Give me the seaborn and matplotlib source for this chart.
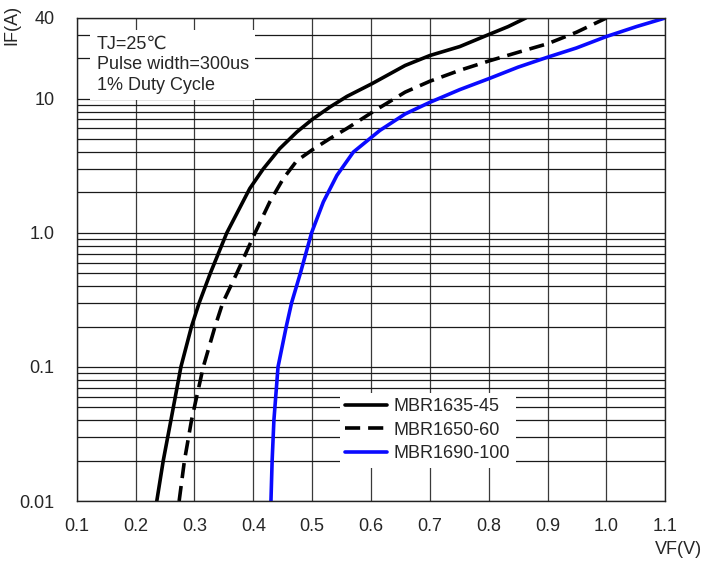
import matplotlib
matplotlib.use("Agg")
import matplotlib.pyplot as plt
import numpy as np
import pandas as pd
import seaborn as sns
from matplotlib.ticker import LogLocator, NullFormatter

# forward voltage (V) vs forward current (A)
vf_45 = [0.236, 0.247, 0.260, 0.277, 0.295, 0.308, 0.327, 0.355, 0.394, 0.417,
         0.445, 0.474, 0.500, 0.530, 0.559, 0.601, 0.658, 0.700, 0.751, 0.800,
         0.833, 0.863]
if_45 = [0.01, 0.02, 0.04, 0.1, 0.2, 0.3, 0.5, 1.0, 2.14, 3.0,
         4.25, 5.65, 7.0, 8.66, 10.4, 12.9, 17.7, 21.0, 24.5, 30.1,
         34.5, 40]

vf_60 = [0.274, 0.283, 0.295, 0.315, 0.335, 0.348, 0.372, 0.403, 0.428, 0.451,
         0.474, 0.500, 0.530, 0.559, 0.607, 0.658, 0.700, 0.751, 0.800, 0.850,
         0.900, 0.949, 1.000]
if_60 = [0.01, 0.02, 0.04, 0.1, 0.2, 0.3, 0.5, 1.0, 1.70, 2.54,
         3.45, 4.15, 5.04, 6.0, 8.18, 11.2, 13.5, 16.3, 19.1, 22.2,
         25.7, 31.3, 40]

vf_100 = [0.430, 0.432, 0.435, 0.442, 0.456, 0.465, 0.480, 0.499, 0.519, 0.542,
          0.570, 0.615, 0.658, 0.700, 0.751, 0.800, 0.850, 0.900, 0.949, 1.000,
          1.051, 1.100]
if_100 = [0.01, 0.02, 0.04, 0.1, 0.2, 0.3, 0.5, 1.0, 1.70, 2.68,
          4.0, 5.8, 7.7, 9.4, 11.7, 14.1, 17.2, 20.4, 23.9, 29.1,
          34.5, 40]

series_names = ["MBR1635-45", "MBR1650-60", "MBR1690-100"]
x_ticks = [0.1, 0.2, 0.3, 0.4, 0.5, 0.6, 0.7, 0.8, 0.9, 1.0, 1.1]
y_ticks = [0.01, 0.1, 1, 10, 40]
y_tick_labels = ["0.01", "0.1", "1.0", "10", "40"]

sns.set_style("white")
plt.rcParams["font.family"] = ["Liberation Sans", "DejaVu Sans"]
plt.rcParams["font.size"] = 13

fig, ax = plt.subplots(figsize=(7.04, 5.62), dpi=100)
fig.subplots_adjust(left=0.109, right=0.945, top=0.968, bottom=0.1085)

lw = 2.6
sns.lineplot(x=vf_45, y=if_45, ax=ax, color="black", lw=lw,
             label=series_names[0], estimator=None, sort=False)
sns.lineplot(x=vf_60, y=if_60, ax=ax, color="black", lw=lw,
             label=series_names[1], estimator=None, sort=False)
ax.lines[-1].set_dashes((4.2, 2.2))
sns.lineplot(x=vf_100, y=if_100, ax=ax, color="#0a0aff", lw=lw,
             label=series_names[2], estimator=None, sort=False)
for ln in ax.lines:
    ln.set_solid_joinstyle("round")
    ln.set_dash_joinstyle("round")

ax.set_yscale("log")
ax.set_xlim(0.1, 1.1)
ax.set_ylim(0.01, 40)
ax.set_xticks(x_ticks)
ax.set_xticklabels([f"{t:.1f}" for t in x_ticks])
ax.set_yticks(y_ticks)
ax.set_yticklabels(y_tick_labels)
ax.yaxis.set_minor_locator(LogLocator(base=10, subs=range(2, 10)))
ax.yaxis.set_minor_formatter(NullFormatter())
ax.tick_params(which="both", length=0)
ax.tick_params(axis="x", pad=12, labelsize=13)
ax.tick_params(axis="y", pad=16, labelsize=13)
ax.grid(which="both", axis="y", color="#1a1a1a", lw=0.9)
ax.grid(which="major", axis="x", color="#3a3a3a", lw=0.9)
ax.set_axisbelow(True)
for sp in ax.spines.values():
    sp.set_color("#222222")
    sp.set_linewidth(1.0)

ax.set_xlabel("")
ax.set_ylabel("")
fig.text(0.017, 0.955, "IF(A)", rotation=90, ha="center", va="center", fontsize=13)
fig.text(0.997, 0.023, "VF(V)", ha="right", va="center", fontsize=13)

ax.text(0.034, 0.963, "TJ=25\u2103\nPulse width=300us\n1% Duty Cycle",
        transform=ax.transAxes, ha="left", va="top", fontsize=13, linespacing=1.27,
        bbox=dict(boxstyle="square,pad=0.35", facecolor="white", edgecolor="none"),
        zorder=5)

leg = ax.legend(loc="upper left", bbox_to_anchor=(0.447, 0.224), frameon=True,
                fancybox=False, framealpha=1, edgecolor="none", fontsize=13,
                handlelength=2.3, handletextpad=0.4, labelspacing=0.36,
                borderpad=0.3, borderaxespad=0)
leg.set_zorder(6)

fig.savefig("out.png", dpi=100)
